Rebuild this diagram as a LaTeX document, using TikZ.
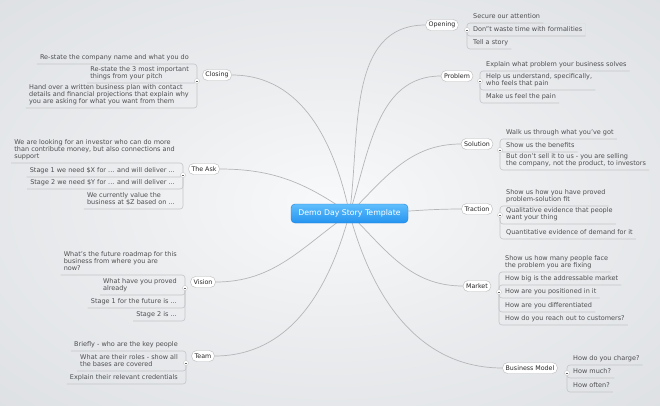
\documentclass[tikz,border=0pt]{standalone}
\usepackage{fontspec}
\setmainfont{DejaVu Sans}
\usepackage{tikz}
\usetikzlibrary{positioning}
\usepackage{xcolor}
\definecolor{bgedge}{RGB}{216,219,223}
\definecolor{bgmid}{RGB}{248,249,250}
\definecolor{boughgray}{RGB}{182,182,184}
\definecolor{twiggray}{RGB}{196,197,199}
\definecolor{rootlight}{RGB}{96,190,252}
\definecolor{rootblue}{RGB}{36,148,240}
\definecolor{rootdark}{RGB}{28,128,222}
\definecolor{subtext}{RGB}{78,78,80}
\newcommand{\subfont}{\fontsize{6.5}{6.7}\selectfont}
\pgfdeclareradialshading{bgglow}{\pgfpoint{0bp}{0bp}}{color(0bp)=(bgmid); color(18bp)=(bgmid!55!bgedge); color(45bp)=(bgedge); color(70bp)=(bgedge)}

\begin{document}
\begin{tikzpicture}[x=1pt,y=1pt,
    bough/.style={draw=boughgray,line width=0.7pt},
    twig/.style={draw=twiggray,line width=0.6pt,rounded corners=3pt},
    root/.style={draw=rootdark,top color=rootlight,bottom color=rootblue,rounded corners=4pt,
      text=white,minimum width=117pt,minimum height=19pt,font=\fontsize{7.8}{9}\selectfont},
    topic/.style={draw=gray!55,fill=white,rounded corners=5pt,inner xsep=3pt,inner ysep=0pt,
      minimum height=11pt,font=\fontsize{6.3}{7}\selectfont,text=black!85},
    subR/.style={anchor=south west,align=left,font=\subfont,text=subtext,
      inner xsep=3pt,inner ysep=2.9pt,text depth=1.6pt},
    subL/.style={subR,anchor=south east},
    foldbtn/.style={circle,draw=gray!45,fill=white,inner sep=0pt,minimum size=5pt,
      path picture={\draw[black!60,line width=0.7pt]
        ([xshift=-1.3pt]path picture bounding box.center) -- ([xshift=1.3pt]path picture bounding box.center);}}]
    % background
    \shade[shading=bgglow] (0,0) rectangle (660,-405);
    \useasboundingbox (0,0) rectangle (660,-405);

    % main topics
    \node[topic] (opening) at (442,-25) {Opening};
    \node[topic] (problem) at (457,-76) {Problem};
    \node[topic] (solution) at (477,-144) {Solution};
    \node[topic] (traction) at (477,-209) {Traction};
    \node[topic] (market) at (477,-286) {Market};
    \node[topic] (bizmodel) at (530,-368) {Business Model};
    \node[topic] (closing) at (217,-75) {Closing};
    \node[topic] (theask) at (204,-169) {The Ask};
    \node[topic] (vision) at (203,-282) {Vision};
    \node[topic] (team) at (203,-356) {Team};

    % root and its boughs
    \coordinate (hub) at (349.5,-213.5);
    \draw[bough] (hub) to[out=82,in=180] (opening.west);
    \draw[bough] (hub) to[out=72,in=180] (problem.west);
    \draw[bough] (hub) to[out=45,in=180] (solution.west);
    \draw[bough] (hub) to[out=0,in=180] (traction.west);
    \draw[bough] (hub) to[out=-45,in=180] (market.west);
    \draw[bough] (hub) to[out=-75,in=180] (bizmodel.west);
    \draw[bough] (hub) to[out=102,in=0] (closing.east);
    \draw[bough] (hub) to[out=145,in=0] (theask.east);
    \draw[bough] (hub) to[out=-145,in=0] (vision.east);
    \draw[bough] (hub) to[out=-105,in=0] (team.east);
    \node[root] (root) at (hub) {Demo Day Story Template};

    % Opening
    \coordinate (opening-sp) at (467,-30);
    \node[subR] (o1) at (470,-23) {Secure our attention};
    \node[subR] (o2) at (470,-36) {Don”t waste time with formalities};
    \node[subR] (o3) at (470,-49) {Tell a story};
    \draw[draw=gray!28,rounded corners=2pt] ([xshift=-3pt]o2.north west) rectangle (o2.south east);
    \foreach \c in {o1,o2,o3} \draw[twig] (opening-sp) |- (\c.south east);
    \node[foldbtn] (opening-fold) at (opening-sp) {};

    % Problem
    \coordinate (problem-sp) at (480,-81);
    \node[subR] (p1) at (483,-71) {Explain what problem your business solves};
    \node[subR] (p2) at (483,-90) {Help us understand, specifically,\\who feels that pain};
    \node[subR] (p3) at (483,-103) {Make us feel the pain};
    \foreach \c in {p1,p2,p3} \draw[twig] (problem-sp) |- (\c.south east);
    \node[foldbtn] (problem-fold) at (problem-sp) {};

    % Solution
    \coordinate (solution-sp) at (500,-150);
    \node[subR] (s1) at (503,-139) {Walk us through what you've got};
    \node[subR] (s2) at (503,-152) {Show us the benefits};
    \node[subR] (s3) at (503,-170) {But don't sell it to us - you are selling\\the company, not the product, to investors};
    \foreach \c in {s1,s2,s3} \draw[twig] (solution-sp) |- (\c.south east);
    \node[foldbtn] (solution-fold) at (solution-sp) {};

    % Traction
    \coordinate (traction-sp) at (500,-215);
    \node[subR] (t1) at (503,-206) {Show us how you have proved\\problem-solution fit};
    \node[subR] (t2) at (503,-224) {Qualitative evidence that people\\want your thing};
    \node[subR] (t3) at (503,-239) {Quantitative evidence of demand for it};
    \foreach \c in {t1,t2,t3} \draw[twig] (traction-sp) |- (\c.south east);
    \node[foldbtn] (traction-fold) at (traction-sp) {};

    % Market
    \coordinate (market-sp) at (499,-292);
    \node[subR] (m1) at (502,-272) {Show us how many people face\\the problem you are fixing};
    \node[subR] (m2) at (502,-285) {How big is the addressable market};
    \node[subR] (m3) at (502,-298) {How are you positioned in it};
    \node[subR] (m4) at (502,-312) {How are you differentiated};
    \node[subR] (m5) at (502,-325) {How do you reach out to customers?};
    \foreach \c in {m1,m2,m3,m4,m5} \draw[twig] (market-sp) |- (\c.south east);
    \node[foldbtn] (market-fold) at (market-sp) {};

    % Business Model
    \coordinate (bizmodel-sp) at (567,-373);
    \node[subR] (b1) at (570,-365) {How do you charge?};
    \node[subR] (b2) at (570,-378) {How much?};
    \node[subR] (b3) at (570,-392) {How often?};
    \foreach \c in {b1,b2,b3} \draw[twig] (bizmodel-sp) |- (\c.south east);
    \node[foldbtn] (bizmodel-fold) at (bizmodel-sp) {};

    % Closing
    \coordinate (closing-sp) at (197,-81);
    \node[subL] (c1) at (192,-64) {Re-state the company name and what you do};
    \node[subL] (c2) at (192,-83) {Re-state the 3 most important\\things from your pitch};
    \node[subL] (c3) at (192,-108) {Hand over a written business plan with contact\\details and financial projections that explain why\\you are asking for what you want from them};
    \foreach \c in {c1,c2,c3} \draw[twig] (closing-sp) |- (\c.south west);
    \node[foldbtn] (closing-fold) at (closing-sp) {};

    % The Ask
    \coordinate (theask-sp) at (183,-175);
    \node[subL] (a1) at (178,-163) {We are looking for an investor who can do more\\than contribute money, but also connections and\\support};
    \node[subL] (a2) at (178,-177) {Stage 1 we need \$X for ... and will deliver ...};
    \node[subL] (a3) at (178,-189) {Stage 2 we need \$Y for ... and will deliver ...};
    \node[subL] (a4) at (178,-209) {We currently value the\\business at \$Z based on ...};
    \foreach \c in {a1,a2,a3,a4} \draw[twig] (theask-sp) |- (\c.south west);
    \node[foldbtn] (theask-fold) at (theask-sp) {};

    % Vision
    \coordinate (vision-sp) at (185,-288);
    \node[subL] (v1) at (180,-275) {What's the future roadmap for this\\business from where you are\\now?};
    \node[subL] (v2) at (180,-295) {What have you proved\\already};
    \node[subL] (v3) at (180,-308) {Stage 1 for the future is ...};
    \node[subL] (v4) at (180,-321) {Stage 2 is ...};
    \foreach \c in {v1,v2,v3,v4} \draw[twig] (vision-sp) |- (\c.south west);
    \node[foldbtn] (vision-fold) at (vision-sp) {};

    % Team
    \coordinate (team-sp) at (186,-363);
    \node[subL] (tm1) at (181,-351) {Briefly - who are the key people};
    \node[subL] (tm2) at (181,-371) {What are their roles - show all\\the bases are covered};
    \node[subL] (tm3) at (181,-384) {Explain their relevant credentials};
    \foreach \c in {tm1,tm2,tm3} \draw[twig] (team-sp) |- (\c.south west);
    \node[foldbtn] (team-fold) at (team-sp) {};
\end{tikzpicture}
\end{document}
